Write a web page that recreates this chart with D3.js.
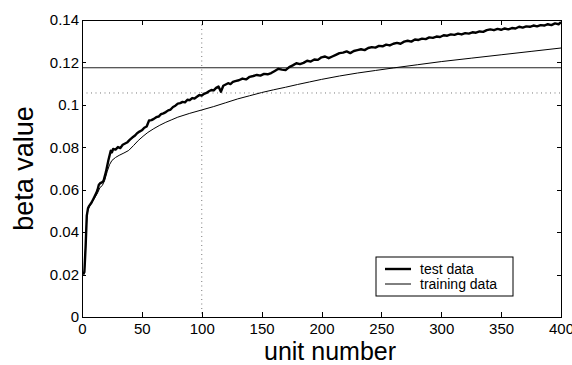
<!DOCTYPE html>
<html>
<head>
    <title></title>
    <meta charset="utf-8" />
    <script src="https://cdn.jsdelivr.net/npm/d3@7"></script>
    <style>
        body { margin: 0; background: #fff; }
        text { font-family: "Liberation Sans", Arial, Helvetica, sans-serif; }
        .axis path, .axis line { stroke: #000; stroke-width: 1; shape-rendering: crispEdges; }
        .axis text { font-size: 15px; fill: #000; }
    </style>
</head>
<body>
<script>
    // unit number vs beta value
    var testData = [[1,0.0200],[2,0.0212],[3,0.0330],[4,0.0478],[5,0.0512],[6,0.0524],[8,0.0540],[10,0.0562],[12,0.0585],[13,0.0600],[14,0.0622],[15,0.0630],[17,0.0636],[18,0.0642],[20,0.0684],[22,0.0738],[24,0.0784],[25,0.0776],[26,0.0792],[28,0.0789],[30,0.0801],[32,0.0796],[34,0.0812],[36,0.0818],[38,0.0824],[40,0.0836],[42,0.0846],[44,0.0854],[46,0.0866],[48,0.0874],[50,0.0880],[52,0.0892],[54,0.0898],[55,0.0912],[56,0.0926],[58,0.0928],[60,0.0934],[62,0.0942],[64,0.0945],[66,0.0956],[68,0.0960],[70,0.0966],[72,0.0974],[74,0.0978],[76,0.0990],[78,0.0996],[80,0.1006],[82,0.1008],[84,0.1014],[86,0.1012],[88,0.1024],[90,0.1022],[92,0.1032],[94,0.1030],[96,0.1038],[98,0.1046],[100,0.1044],[102,0.1052],[104,0.1056],[106,0.1064],[108,0.1070],[110,0.1068],[112,0.1080],[114,0.1086],[116,0.1062],[118,0.1090],[120,0.1096],[122,0.1102],[124,0.1098],[126,0.1108],[128,0.1112],
        [131,0.1116],[134,0.1124],[137,0.1120],[140,0.1132],[143,0.1136],[146,0.1141],[149,0.1138],[152,0.1146],[155,0.1144],[158,0.1150],[161,0.1160],[164,0.1170],[167,0.1166],[170,0.1164],[173,0.1178],[176,0.1186],[179,0.1196],[182,0.1192],[185,0.1198],[188,0.1208],[191,0.1204],[194,0.1214],[197,0.1212],[200,0.1224],[203,0.1228],[206,0.1220],[209,0.1228],[212,0.1236],[215,0.1244],[218,0.1246],[221,0.1252],[224,0.1244],[227,0.1254],[230,0.1258],[233,0.1262],[236,0.1258],[239,0.1268],[242,0.1272],[245,0.1270],[248,0.1278],[251,0.1276],[254,0.1284],[257,0.1280],[260,0.1288],[263,0.1292],[266,0.1288],[269,0.1298],[272,0.1302],[275,0.1298],[278,0.1308],[281,0.1306],[284,0.1312],[287,0.1310],[290,0.1318],[293,0.1316],[296,0.1322],[299,0.1320],[302,0.1328],[305,0.1326],[308,0.1332],[311,0.1330],[314,0.1336],[317,0.1332],[320,0.1338],[323,0.1336],[326,0.1342],[329,0.1340],[332,0.1346],[335,0.1344],[338,0.1352],[341,0.1356],[344,0.1352],[347,0.1358],[350,0.1354],[353,0.1360],[356,0.1356],[359,0.1362],[362,0.1360],[365,0.1368],[368,0.1364],[371,0.1370],[374,0.1368],[377,0.1374],[380,0.1370],[383,0.1376],[386,0.1374],[389,0.1380],[392,0.1376],[395,0.1384],[398,0.1380],[400,0.1390]];

    var trainData = [[1,0.0200],[2,0.0218],[3,0.0330],[4,0.0470],[5,0.0508],[7,0.0528],[10,0.0556],[13,0.0585],[15,0.0610],[17,0.0620],[19,0.0645],[21,0.0685],[23,0.0718],[25,0.0738],[28,0.0752],[31,0.0762],[35,0.0773],[39,0.0785],[43,0.0808],[47,0.0832],[51,0.0852],[55,0.0870],[60,0.0888],[65,0.0904],[70,0.0918],[75,0.0930],[80,0.0942],[90,0.0960],[100,0.0976],[110,0.0992],[120,0.1010],[130,0.1028],[140,0.1043],[150,0.1058],[160,0.1071],[170,0.1083],[180,0.1096],[190,0.1108],[200,0.1120],[215,0.1136],[230,0.1150],[245,0.1162],[260,0.1174],[280,0.1189],[300,0.1204],[325,0.1220],[350,0.1236],[375,0.1252],[400,0.1268]];

    var xTicks = [0, 50, 100, 150, 200, 250, 300, 350, 400];
    var yTicks = [0, 0.02, 0.04, 0.06, 0.08, 0.1, 0.12, 0.14];
    var yTickLabels = ['0', '0.02', '0.04', '0.06', '0.08', '0.1', '0.12', '0.14'];
    var solidLevel = [0.1175];
    var dottedLevel = [0.1056];
    var dottedUnit = [100];
    var legendNames = ['test data', 'training data'];

    var W = 572, H = 365;
    var m = { top: 20, right: 11, bottom: 48, left: 82 };
    var w = W - m.left - m.right, h = H - m.top - m.bottom;

    var svg = d3.select('body').append('svg').attr('width', W).attr('height', H);
    var g = svg.append('g').attr('transform', 'translate(' + m.left + ',' + m.top + ')');

    var x = d3.scaleLinear().domain([0, 400]).range([0, w]);
    var y = d3.scaleLinear().domain([0, 0.14]).range([h, 0]);

    // reference lines
    g.selectAll('.hsolid').data(solidLevel).enter().append('line')
        .attr('x1', 0).attr('x2', w)
        .attr('y1', function (d) { return y(d); }).attr('y2', function (d) { return y(d); })
        .attr('stroke', '#222').attr('stroke-width', 1.2);

    g.selectAll('.hdot').data(dottedLevel).enter().append('line')
        .attr('x1', 0).attr('x2', w)
        .attr('y1', function (d) { return y(d); }).attr('y2', function (d) { return y(d); })
        .attr('stroke', '#777').attr('stroke-width', 1).attr('stroke-dasharray', '1,3.5');

    g.selectAll('.vdot').data(dottedUnit).enter().append('line')
        .attr('y1', 0).attr('y2', h)
        .attr('x1', function (d) { return x(d); }).attr('x2', function (d) { return x(d); })
        .attr('stroke', '#777').attr('stroke-width', 1).attr('stroke-dasharray', '1,3.5');

    var line = d3.line()
        .x(function (d) { return x(d[0]); })
        .y(function (d) { return y(d[1]); });

    g.append('path').datum(trainData)
        .attr('d', line).attr('fill', 'none')
        .attr('stroke', '#000').attr('stroke-width', 1);

    g.append('path').datum(testData)
        .attr('d', line).attr('fill', 'none')
        .attr('stroke', '#000').attr('stroke-width', 2.4).attr('stroke-linejoin', 'round');

    // axes, ticks inward
    g.append('g').attr('class', 'axis').attr('transform', 'translate(0,' + h + ')')
        .call(d3.axisBottom(x).tickValues(xTicks).tickSizeInner(-5).tickSizeOuter(0).tickPadding(6));
    g.append('g').attr('class', 'axis')
        .call(d3.axisTop(x).tickValues(xTicks).tickSizeInner(-5).tickSizeOuter(0).tickFormat(''));
    g.append('g').attr('class', 'axis')
        .call(d3.axisLeft(y).tickValues(yTicks).tickSizeInner(-4).tickSizeOuter(0).tickPadding(3)
            .tickFormat(function (d, i) { return yTickLabels[i]; }));
    g.append('g').attr('class', 'axis').attr('transform', 'translate(' + w + ',0)')
        .call(d3.axisRight(y).tickValues(yTicks).tickSizeInner(-4).tickSizeOuter(0).tickFormat(''));

    // titles
    svg.append('text').attr('x', 264).attr('y', 359.5)
        .attr('font-size', 25).text('unit number');
    svg.append('text').attr('transform', 'translate(33,' + (m.top + h / 2) + ') rotate(-90)')
        .attr('text-anchor', 'middle').attr('font-size', 27).text('beta value');

    // legend
    var lg = svg.append('g').attr('transform', 'translate(376,257)');
    lg.append('rect').attr('width', 137).attr('height', 39)
        .attr('fill', '#fff').attr('stroke', '#000').attr('stroke-width', 1);
    lg.selectAll('.li').data(legendNames).enter().append('line')
        .attr('x1', 9).attr('x2', 35)
        .attr('y1', function (d, i) { return 12 + i * 15; }).attr('y2', function (d, i) { return 12 + i * 15; })
        .attr('stroke', '#000').attr('stroke-width', function (d, i) { return i === 0 ? 2.4 : 1; });
    lg.selectAll('.lt').data(legendNames).enter().append('text')
        .attr('x', 44).attr('y', function (d, i) { return 12 + i * 15; }).attr('dy', '0.35em')
        .attr('font-size', 14).text(function (d) { return d; });
</script>
</body>
</html>
